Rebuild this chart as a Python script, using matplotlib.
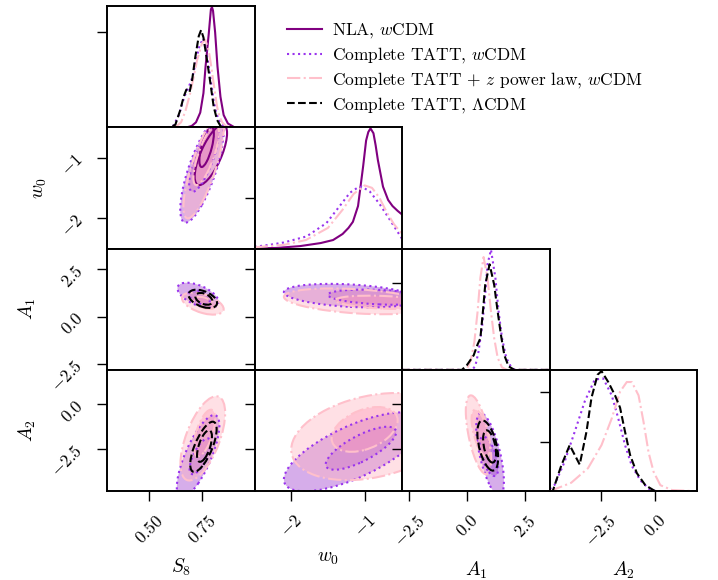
import numpy as np
import matplotlib
matplotlib.use("Agg")
import matplotlib.pyplot as plt
from matplotlib.patches import Circle
from matplotlib.transforms import Affine2D
from matplotlib.lines import Line2D

plt.rcParams.update({
    "font.family": "serif",
    "font.serif": ["cmr10"],
    "mathtext.fontset": "cm",
    "axes.formatter.use_mathtext": True,
    "font.size": 12.5,
    "axes.unicode_minus": True,
})

# ---------------- parameters / axes ----------------
param_labels = [r"$S_8$", r"$w_0$", r"$A_1$", r"$A_2$"]
param_limits = [(0.302, 0.995), (-2.50, -0.49), (-2.81, 3.58), (-4.85, 1.92)]
param_ticks = [[0.50, 0.75], [-2, -1], [-2.5, 0.0, 2.5], [-2.5, 0.0]]
param_ticklabels = [[r"$0.50$", r"$0.75$"], [r"$-2$", r"$-1$"],
                    [r"$-2.5$", r"$0.0$", r"$2.5$"], [r"$-2.5$", r"$0.0$"]]
diag_yticks = [[0.785], [0.415, 0.83], [0.72], [0.41, 0.82]]

# ---------------- chains ----------------
chain_keys = ["nla", "tatt", "pink", "lcdm"]
chain_names = [r"NLA, $w$CDM", r"Complete TATT, $w$CDM",
               r"Complete TATT + $z$ power law, $w$CDM",
               r"Complete TATT, $\Lambda$CDM"]
chain_colors = ["#800080", "#9933EE", "#FFC0CB", "#000000"]
chain_styles = ["-", ":", "-.", "--"]
fill_outer = {"tatt": ("#9932CC", 0.40), "pink": ("#FFB6C1", 0.42)}
fill_inner = {"tatt": ("#9932CC", 0.38), "pink": ("#FF9CB8", 0.40)}

# ---------------- 1D marginals (relative density) ----------------
s8_x_nla = [0.30, 0.68, 0.70, 0.72, 0.74, 0.755, 0.765, 0.78, 0.79, 0.795, 0.80, 0.81, 0.821, 0.835, 0.85, 0.87, 0.90, 0.995]
s8_d_nla = [0.0, 0.0, 0.01, 0.04, 0.12, 0.28, 0.50, 0.77, 0.97, 0.99, 0.96, 0.78, 0.50, 0.25, 0.10, 0.03, 0.0, 0.0]
s8_x_tatt = [0.30, 0.59, 0.613, 0.64, 0.665, 0.686, 0.705, 0.72, 0.735, 0.753, 0.765, 0.78, 0.79, 0.803, 0.815, 0.827, 0.849, 0.87, 0.995]
s8_d_tatt = [0.0, 0.0, 0.01, 0.10, 0.25, 0.33, 0.42, 0.55, 0.66, 0.73, 0.66, 0.50, 0.38, 0.22, 0.12, 0.06, 0.01, 0.0, 0.0]
s8_x_pink = [0.30, 0.60, 0.63, 0.65, 0.67, 0.693, 0.71, 0.725, 0.748, 0.764, 0.78, 0.79, 0.803, 0.819, 0.83, 0.843, 0.86, 0.88, 0.995]
s8_d_pink = [0.0, 0.0, 0.01, 0.04, 0.13, 0.28, 0.42, 0.55, 0.69, 0.72, 0.63, 0.52, 0.36, 0.17, 0.09, 0.04, 0.01, 0.0, 0.0]
s8_x_lcdm = [0.30, 0.60, 0.623, 0.646, 0.662, 0.675, 0.69, 0.702, 0.717, 0.733, 0.744, 0.755, 0.772, 0.788, 0.803, 0.819, 0.835, 0.86, 0.995]
s8_d_lcdm = [0.0, 0.0, 0.02, 0.14, 0.25, 0.31, 0.29, 0.39, 0.58, 0.75, 0.80, 0.74, 0.55, 0.36, 0.17, 0.06, 0.01, 0.0, 0.0]

w0_x_nla = [-2.50, -2.20, -1.88, -1.60, -1.43, -1.30, -1.22, -1.16, -1.09, -1.02, -0.98, -0.95, -0.92, -0.88, -0.85, -0.82, -0.75, -0.68, -0.62, -0.55, -0.49]
w0_d_nla = [0.0, 0.005, 0.02, 0.045, 0.07, 0.12, 0.17, 0.22, 0.35, 0.68, 0.89, 0.96, 0.99, 0.95, 0.85, 0.73, 0.51, 0.40, 0.35, 0.31, 0.28]
w0_x_tatt = [-2.50, -2.30, -2.10, -1.79, -1.52, -1.34, -1.20, -1.10, -1.04, -0.93, -0.80, -0.66, -0.49]
w0_d_tatt = [0.015, 0.03, 0.05, 0.10, 0.21, 0.35, 0.46, 0.50, 0.51, 0.47, 0.37, 0.24, 0.08]
w0_x_pink = [-2.50, -2.10, -1.80, -1.50, -1.30, -1.15, -1.00, -0.90, -0.80, -0.70, -0.60, -0.49]
w0_d_pink = [0.01, 0.03, 0.07, 0.17, 0.32, 0.45, 0.52, 0.50, 0.42, 0.30, 0.20, 0.12]

a1_x_tatt = [-2.81, 0.21, 0.36, 0.50, 0.65, 0.79, 0.89, 1.04, 1.23, 1.37, 1.52, 1.70, 1.95, 2.20, 3.58]
a1_d_tatt = [0.0, 0.0, 0.03, 0.15, 0.35, 0.62, 0.87, 0.99, 0.76, 0.48, 0.26, 0.10, 0.01, 0.0, 0.0]
a1_x_pink = [-2.81, -0.10, 0.0, 0.17, 0.32, 0.46, 0.58, 0.72, 0.89, 1.04, 1.18, 1.33, 1.52, 1.75, 3.58]
a1_d_pink = [0.0, 0.0, 0.01, 0.08, 0.23, 0.48, 0.76, 0.93, 0.76, 0.48, 0.26, 0.10, 0.02, 0.0, 0.0]
a1_x_lcdm = [-2.81, -0.22, 0.0, 0.29, 0.46, 0.58, 0.69, 0.79, 0.98, 1.18, 1.33, 1.47, 1.62, 1.80, 2.05, 3.58]
a1_d_lcdm = [0.0, 0.0, 0.04, 0.12, 0.21, 0.26, 0.48, 0.70, 0.87, 0.70, 0.48, 0.29, 0.12, 0.03, 0.0, 0.0]

a2_x_tatt = [-4.85, -4.63, -4.17, -3.70, -3.24, -2.78, -2.39, -2.00, -1.70, -1.39, -1.08, -0.69, -0.23, 0.10, 1.92]
a2_d_tatt = [0.02, 0.05, 0.24, 0.49, 0.74, 0.92, 0.93, 0.79, 0.60, 0.38, 0.21, 0.09, 0.01, 0.0, 0.0]
a2_x_pink = [-4.85, -4.71, -3.86, -3.09, -2.47, -2.00, -1.62, -1.31, -1.08, -0.77, -0.54, -0.31, -0.08, 0.23, 0.77, 1.92]
a2_d_pink = [0.0, 0.01, 0.07, 0.19, 0.38, 0.60, 0.82, 0.90, 0.90, 0.79, 0.57, 0.32, 0.16, 0.05, 0.01, 0.0]
a2_x_lcdm = [-4.85, -4.71, -4.32, -3.93, -3.70, -3.47, -3.16, -2.93, -2.65, -2.47, -2.16, -1.85, -1.62, -1.39, -1.16, -0.85, -0.46, 0.0, 1.92]
a2_d_lcdm = [0.0, 0.0, 0.21, 0.38, 0.30, 0.22, 0.49, 0.77, 0.96, 0.99, 0.90, 0.79, 0.69, 0.49, 0.30, 0.15, 0.05, 0.0, 0.0]

marginals = {
    0: {"nla": (s8_x_nla, s8_d_nla), "tatt": (s8_x_tatt, s8_d_tatt),
        "pink": (s8_x_pink, s8_d_pink), "lcdm": (s8_x_lcdm, s8_d_lcdm)},
    1: {"nla": (w0_x_nla, w0_d_nla), "tatt": (w0_x_tatt, w0_d_tatt),
        "pink": (w0_x_pink, w0_d_pink)},
    2: {"tatt": (a1_x_tatt, a1_d_tatt), "pink": (a1_x_pink, a1_d_pink),
        "lcdm": (a1_x_lcdm, a1_d_lcdm)},
    3: {"tatt": (a2_x_tatt, a2_d_tatt), "pink": (a2_x_pink, a2_d_pink),
        "lcdm": (a2_x_lcdm, a2_d_lcdm)},
}

# ---------------- 2D credible regions ----------------
# each level: (centre_x, centre_y, half-extent x, half-extent y, correlation); [inner, outer]
cont_s8_w0 = {
    "nla":  [(0.770, -0.82, 0.034, 0.33, 0.68), (0.790, -0.95, 0.076, 0.50, 0.72)],
    "tatt": [(0.758, -1.00, 0.070, 0.56, 0.76), (0.748, -1.21, 0.102, 0.86, 0.75)],
    "pink": [(0.768, -0.95, 0.060, 0.50, 0.76), (0.756, -1.15, 0.095, 0.85, 0.78)],
}
cont_s8_a1 = {
    "tatt": [(0.735, 1.02, 0.050, 0.38, -0.50), (0.730, 1.12, 0.097, 0.66, -0.55)],
    "pink": [(0.760, 0.72, 0.050, 0.32, -0.50), (0.752, 0.68, 0.098, 0.58, -0.50)],
    "lcdm": [(0.757, 0.93, 0.040, 0.31, -0.40), (0.752, 0.93, 0.067, 0.48, -0.45)],
}
cont_w0_a1 = {
    "tatt": [(-0.80, 1.02, 0.70, 0.40, -0.30), (-1.20, 1.10, 0.90, 0.62, -0.30)],
    "pink": [(-0.75, 0.75, 0.65, 0.35, -0.30), (-1.10, 0.80, 1.00, 0.68, -0.35)],
}
cont_s8_a2 = {
    "tatt": [(0.740, -2.90, 0.050, 1.00, 0.70), (0.730, -2.90, 0.100, 2.30, 0.75)],
    "pink": [(0.760, -1.60, 0.050, 1.30, 0.60), (0.752, -1.90, 0.105, 2.35, 0.60)],
    "lcdm": [(0.760, -2.33, 0.035, 0.88, 0.60), (0.755, -2.37, 0.062, 1.40, 0.70)],
}
cont_w0_a2 = {
    "tatt": [(-1.05, -2.45, 0.48, 1.20, 0.75), (-1.15, -2.65, 0.95, 2.20, 0.70)],
    "pink": [(-1.00, -1.40, 0.45, 1.25, 0.40), (-0.90, -1.80, 1.10, 2.43, 0.30)],
}
cont_a1_a2 = {
    "tatt": [(0.95, -2.90, 0.40, 1.10, -0.60), (1.00, -2.80, 0.60, 2.30, -0.65)],
    "pink": [(0.60, -1.60, 0.40, 1.30, -0.60), (0.50, -1.70, 0.55, 2.20, -0.60)],
    "lcdm": [(0.98, -2.35, 0.28, 0.90, -0.45), (0.90, -2.30, 0.45, 1.40, -0.50)],
}
contours = {(1, 0): cont_s8_w0, (2, 0): cont_s8_a1, (2, 1): cont_w0_a1,
            (3, 0): cont_s8_a2, (3, 1): cont_w0_a2, (3, 2): cont_a1_a2}


def region(ax, level, **kw):
    cx, cy, sx, sy, rho = level
    tr = Affine2D(np.array([[sx, 0.0, cx],
                            [sy * rho, sy * np.sqrt(1 - rho ** 2), cy],
                            [0.0, 0.0, 1.0]])) + ax.transData
    p = Circle((0, 0), 1.0, transform=tr, **kw)
    ax.add_patch(p)
    return p


fig = plt.figure(figsize=(7.18, 5.8), dpi=100)
gs = fig.add_gridspec(4, 4, left=0.149, right=0.971, top=0.990, bottom=0.153,
                      wspace=0, hspace=0)

LW = 1.5
for i in range(4):
    for j in range(i + 1):
        ax = fig.add_subplot(gs[i, j])
        ax.set_xlim(*param_limits[j])
        if i == j:
            for k, key in enumerate(chain_keys):
                if key in marginals[i]:
                    xs, ds = marginals[i][key]
                    ax.plot(xs, ds, color=chain_colors[k], ls=chain_styles[k], lw=LW)
            ax.set_ylim(0, 1.0)
            ax.set_yticks(diag_yticks[i])
            ax.set_yticklabels([])
        else:
            ax.set_ylim(*param_limits[i])
            cset = contours[(i, j)]
            for key in ["tatt", "pink"]:
                if key in cset:
                    c, a = fill_outer[key]
                    region(ax, cset[key][1], facecolor=c, alpha=a, edgecolor="none", lw=0)
                    c, a = fill_inner[key]
                    region(ax, cset[key][0], facecolor=c, alpha=a, edgecolor="none", lw=0)
            for k, key in enumerate(chain_keys):
                if key in cset:
                    for lev in cset[key]:
                        region(ax, lev, facecolor="none", edgecolor=chain_colors[k],
                               ls=chain_styles[k], lw=LW)
            ax.set_yticks(param_ticks[i])
            if j == 0:
                ax.set_yticklabels(param_ticklabels[i])
                ax.set_ylabel(param_labels[i], fontsize=14, labelpad=7)
            else:
                ax.set_yticklabels([])
        if i == 3:
            ax.set_xticks(param_ticks[j])
            ax.set_xticklabels(param_ticklabels[j])
            ax.set_xlabel(param_labels[j], fontsize=14, labelpad=7)
        else:
            ax.set_xticks([])
        ax.tick_params(direction="out", length=7, width=1.0, labelsize=12.5,
                       labelrotation=45, pad=8)
        for sp in ax.spines.values():
            sp.set_linewidth(1.4)

handles = [Line2D([], [], color=chain_colors[k], ls=chain_styles[k], lw=LW)
           for k in range(4)]
fig.legend(handles, chain_names, loc="upper left", bbox_to_anchor=(0.378, 0.99),
           frameon=False, handlelength=2.0, handletextpad=0.6, labelspacing=0.28,
           fontsize=12.5)

fig.savefig("out.png", dpi=100)
